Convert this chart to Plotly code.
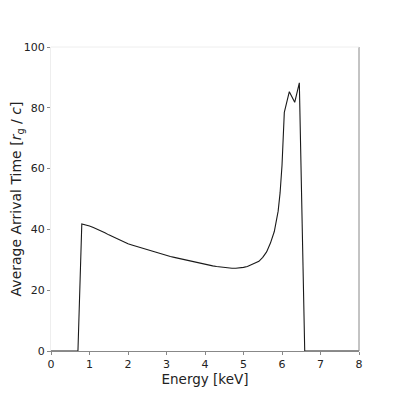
import plotly.graph_objects as go

# Energy grid [keV] and average arrival time [r_g / c]
energy = [0.0, 0.7, 0.8, 0.9, 1.0, 1.1, 1.2, 1.3, 1.4, 1.5, 1.6, 1.7, 1.8, 1.9,
          2.0, 2.1, 2.2, 2.3, 2.4, 2.5, 2.6, 2.7, 2.8, 2.9, 3.0, 3.1, 3.2, 3.3,
          3.4, 3.5, 3.6, 3.7, 3.8, 3.9, 4.0, 4.1, 4.2, 4.3, 4.4, 4.5, 4.6, 4.7,
          4.8, 4.9, 5.0, 5.1, 5.2, 5.3, 5.4, 5.5, 5.6, 5.7, 5.8, 5.9, 5.95,
          6.0, 6.06, 6.19, 6.33, 6.45, 6.59, 8.0]
arrival = [0.0, 0.0, 41.8, 41.5, 41.1, 40.6, 40.1, 39.5, 38.9, 38.2, 37.6, 37.0,
           36.4, 35.8, 35.3, 34.9, 34.5, 34.1, 33.7, 33.3, 32.9, 32.5, 32.1, 31.8,
           31.4, 31.1, 30.8, 30.5, 30.2, 29.9, 29.6, 29.3, 29.0, 28.7, 28.5, 28.2,
           28.0, 27.8, 27.6, 27.4, 27.3, 27.2, 27.2, 27.3, 27.5, 27.8, 28.3, 28.9,
           29.5, 30.8, 32.6, 35.5, 39.3, 46.0, 52.0, 61.0, 78.5, 85.3, 81.8, 88.2,
           0.0, 0.0]

x_ticks = [0, 1, 2, 3, 4, 5, 6, 7, 8]
y_ticks = [0, 20, 40, 60, 80, 100]

FONT = "DejaVu Sans, Arial, sans-serif"

fig = go.Figure()
fig.add_trace(go.Scatter(x=energy, y=arrival, mode="lines",
                         line=dict(color="#1a1a1a", width=1.1),
                         showlegend=False))

# page body has an 8px margin, so the figure is 391px and margins are offset
fig.update_layout(
    width=391, height=391,
    margin=dict(l=43, r=40, t=39, b=48),
    paper_bgcolor="white", plot_bgcolor="white",
    font=dict(family=FONT, size=11, color="#222222"),
)

fig.update_xaxes(range=[0, 8], tickvals=x_ticks, showgrid=False, zeroline=False,
                 showline=True, linecolor="#888888", linewidth=1,
                 ticks="outside", ticklen=3, tickcolor="#888888",
                 automargin=False,
                 title=dict(text="Energy [keV]", font=dict(size=13.5), standoff=1))
fig.update_yaxes(range=[0, 100], tickvals=y_ticks, showgrid=False, zeroline=False,
                 showline=True, linecolor="#eeeeee", linewidth=1,
                 ticks="outside", ticklen=3, tickcolor="#888888",
                 automargin=False,
                 title=dict(text="Average Arrival Time [<i>r</i><sub>g</sub> / <i>c</i>]",
                            font=dict(size=14), standoff=8))

# right spine grey, top spine faint
fig.add_shape(type="line", xref="paper", yref="paper", x0=1, x1=1, y0=0, y1=1,
              line=dict(color="#888888", width=1))
fig.add_shape(type="line", xref="paper", yref="paper", x0=0, x1=1, y0=1, y1=1,
              line=dict(color="#eeeeee", width=1))

fig.write_html("out.html")
